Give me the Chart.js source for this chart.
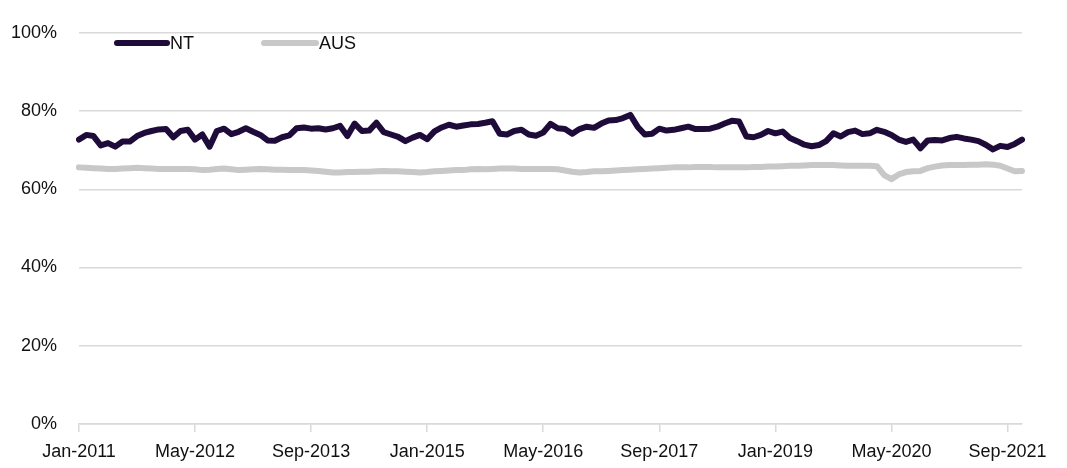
<!DOCTYPE html>
<html>
<head>
<meta charset="utf-8">
<script src="https://cdn.jsdelivr.net/npm/chart.js@4.4.1/dist/chart.umd.min.js"></script>
<style>
  html, body { margin: 0; padding: 0; background: #ffffff; }
  #wrap { position: relative; width: 1067px; height: 468px; }
</style>
</head>
<body>
<div id="wrap"><canvas id="c" width="1067" height="468"></canvas></div>
<script>
// ---- Data ----
const monthNames = ["Jan","Feb","Mar","Apr","May","Jun","Jul","Aug","Sep","Oct","Nov","Dec"];
const startYear = 2011;
const monthCount = 131; // Jan-2011 .. Nov-2021
const categories = [];
for (let i = 0; i < monthCount; i++) {
  categories.push(monthNames[i % 12] + "-" + (startYear + Math.floor(i / 12)));
}
const tickLabels = ["Jan-2011","May-2012","Sep-2013","Jan-2015","May-2016","Sep-2017","Jan-2019","May-2020","Sep-2021"];

const seriesNames = ["NT", "AUS"];

const ntValues = [
  72.7,73.9,73.6,71.2,71.8,70.9,72.2,72.2,73.6,74.4,74.9,75.3,
  75.4,73.3,74.9,75.2,72.7,74.0,70.9,74.9,75.5,74.1,74.7,75.6,
  74.7,73.9,72.5,72.4,73.3,73.8,75.6,75.8,75.5,75.6,75.3,75.6,
  76.2,73.6,76.8,74.9,75.0,77.0,74.6,74.0,73.4,72.3,73.2,73.9,
  72.8,74.8,75.8,76.5,76.0,76.3,76.6,76.7,77.0,77.4,74.2,74.0,
  74.9,75.2,74.0,73.7,74.5,76.7,75.6,75.4,74.2,75.4,76.0,75.7,
  76.8,77.6,77.7,78.2,79.0,76.0,74.0,74.2,75.5,75.0,75.2,75.6,
  76.0,75.4,75.4,75.5,76.0,76.8,77.5,77.3,73.5,73.3,73.9,74.9,
  74.3,74.75,73.1,72.3,71.4,71.0,71.3,72.3,74.3,73.5,74.6,75.0,
  74.1,74.3,75.2,74.7,73.9,72.7,72.1,72.7,70.5,72.5,72.6,72.5,
  73.1,73.4,73.0,72.7,72.3,71.4,70.2,71.1,70.8,71.6,72.7
];

const ausValues = [
  65.6,65.5,65.4,65.3,65.2,65.2,65.3,65.4,65.5,65.4,65.3,65.2,
  65.2,65.2,65.2,65.2,65.1,64.9,65.0,65.2,65.3,65.1,64.9,65.0,
  65.1,65.2,65.1,65.0,65.0,64.9,64.9,64.9,64.8,64.7,64.5,64.3,
  64.3,64.4,64.4,64.5,64.5,64.6,64.7,64.6,64.6,64.5,64.4,64.3,
  64.4,64.6,64.7,64.8,64.9,64.9,65.1,65.2,65.1,65.2,65.3,65.3,
  65.3,65.2,65.2,65.2,65.2,65.2,65.1,64.8,64.5,64.3,64.4,64.6,
  64.6,64.7,64.8,64.9,65.0,65.1,65.2,65.3,65.4,65.5,65.6,65.6,
  65.6,65.7,65.7,65.7,65.6,65.6,65.6,65.6,65.6,65.7,65.7,65.8,
  65.8,65.9,66.0,66.0,66.1,66.2,66.2,66.2,66.2,66.1,66.0,66.0,
  66.0,66.0,65.9,63.6,62.6,63.8,64.4,64.6,64.7,65.4,65.8,66.1,
  66.2,66.2,66.2,66.3,66.3,66.4,66.3,66.0,65.3,64.6,64.7
];

const yTicks = [0, 20, 40, 60, 80, 100];

// ---- Styles ----
const FONT = "'Liberation Sans', Arial, sans-serif";
const NT_COLOR = "#1e0b3a";
const AUS_COLOR = "#c8c8c8";
const GRID = "#d9d9d9";

const legendPlugin = {
  id: "customLegend",
  afterDraw(chart) {
    const ctx = chart.ctx;
    const items = [
      { x1: 117, x2: 167, tx: 170 },
      { x1: 264, x2: 316, tx: 319 }
    ];
    const y = 43;
    ctx.save();
    chart.data.datasets.forEach((ds, i) => {
      const it = items[i];
      ctx.beginPath();
      ctx.strokeStyle = ds.borderColor;
      ctx.lineWidth = 6;
      ctx.lineCap = "round";
      ctx.moveTo(it.x1, y);
      ctx.lineTo(it.x2, y);
      ctx.stroke();
      ctx.fillStyle = "#111";
      ctx.font = "18px " + FONT;
      ctx.textBaseline = "middle";
      ctx.textAlign = "left";
      ctx.fillText(ds.label, it.tx, y + 1);
    });
    ctx.restore();
  }
};

new Chart(document.getElementById("c"), {
  type: "line",
  data: {
    labels: categories,
    datasets: [
      {
        label: seriesNames[0],
        data: ntValues,
        borderColor: NT_COLOR,
        borderWidth: 6,
        pointRadius: 0,
        tension: 0,
        borderJoinStyle: "round",
        borderCapStyle: "round",
        order: 1
      },
      {
        label: seriesNames[1],
        data: ausValues,
        borderColor: AUS_COLOR,
        borderWidth: 6,
        pointRadius: 0,
        tension: 0,
        borderJoinStyle: "round",
        borderCapStyle: "round",
        order: 2
      }
    ]
  },
  options: {
    responsive: false,
    animation: false,
    devicePixelRatio: 1,
    layout: { padding: { top: 22, right: 45, bottom: 0, left: 0 } },
    plugins: {
      legend: { display: false },
      tooltip: { enabled: false }
    },
    scales: {
      x: {
        type: "category",
        offset: false,
        grid: {
          drawOnChartArea: false,
          drawTicks: true,
          tickLength: 8,
          lineWidth: 1.5,
          color: (c) => (tickLabels.includes(categories[c.index]) ? GRID : "rgba(0,0,0,0)")
        },
        border: { display: true, color: GRID, width: 1.5 },
        ticks: {
          autoSkip: false,
          maxRotation: 0,
          minRotation: 0,
          padding: 9,
          color: "#111",
          font: { family: FONT, size: 18 },
          callback: function (v, i) {
            const lab = categories[i];
            return tickLabels.includes(lab) ? lab : "";
          }
        },
        afterFit: (s) => { s.height = 44; }
      },
      y: {
        min: 0,
        max: 100,
        afterBuildTicks: (s) => { s.ticks = yTicks.map(v => ({ value: v })); },
        grid: {
          drawTicks: false,
          color: GRID,
          lineWidth: 1.5
        },
        border: { display: false },
        ticks: {
          padding: 22,
          color: "#111",
          font: { family: FONT, size: 18 },
          callback: (v) => v + "%"
        },
        afterFit: (s) => { s.width = 79; }
      }
    }
  },
  plugins: [legendPlugin]
});
</script>
</body>
</html>
